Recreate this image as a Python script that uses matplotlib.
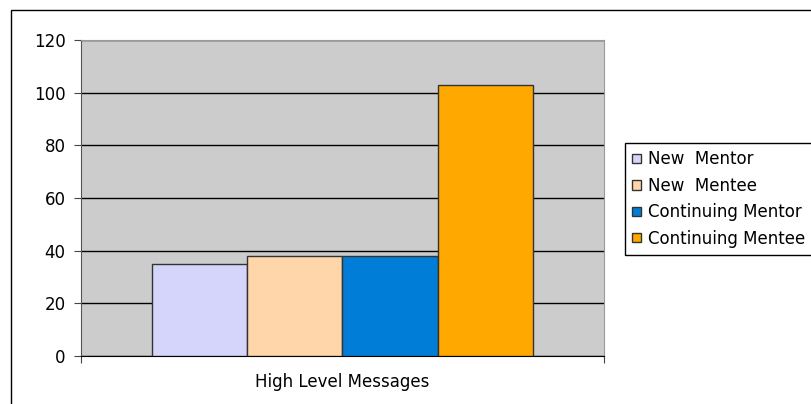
import matplotlib.pyplot as plt
from matplotlib.patches import Rectangle

series = ['New  Mentor', 'New  Mentee', 'Continuing Mentor', 'Continuing Mentee']
values = [35, 38, 38, 103]
colors = ['#D5D5FC', '#FFD5AA', '#007DD6', '#FFA800']
category = 'High Level Messages'
yticks = [0, 20, 40, 60, 80, 100, 120]

W, H = 812, 404
plt.rcParams['font.family'] = ['DejaVu Sans']

fig = plt.figure(figsize=(W / 100, H / 100), dpi=100)
fig.patch.set_facecolor('white')

# outer chart frame (runs past the right/bottom edges)
fig.patches.append(Rectangle((11 / W, 1 - 600 / H), 900 / W, 590 / H,
                             transform=fig.transFigure, fill=False,
                             edgecolor='black', linewidth=1))

ax = fig.add_axes([81 / W, 1 - 356 / H, 523 / W, 316 / H])
ax.set_facecolor('#CCCCCC')

bw = 0.182
for i, (name, v, c) in enumerate(zip(series, values, colors)):
    ax.bar((i - 1.5) * bw, v, width=bw, color=c, edgecolor='#333333',
           linewidth=1, label=name, zorder=3)

ax.set_xlim(-0.5, 0.5)
ax.set_ylim(0, 120)
ax.set_yticks(yticks)
ax.yaxis.grid(True, color='black', linewidth=1)
ax.set_axisbelow(True)

ax.set_xticks([-0.5, 0.5])
ax.set_xticklabels(['', ''])
ax.set_xticks([0], minor=True)
ax.set_xticklabels([category], minor=True)
ax.tick_params(axis='x', which='minor', length=0, pad=12, labelsize=12)
ax.tick_params(axis='x', which='major', length=5, direction='out', color='#444444')
ax.tick_params(axis='y', length=5, direction='out', pad=6, labelsize=12, color='#444444')

for s in ['top', 'right']:
    ax.spines[s].set_color('#999999')
ax.spines['left'].set_color('#555555')
ax.spines['bottom'].set_color('black')

leg = ax.legend(loc='upper left', bbox_to_anchor=(625 / W, 1 - 143 / H),
                bbox_transform=fig.transFigure, fontsize=12, frameon=True,
                fancybox=False, edgecolor='black', framealpha=1,
                handlelength=0.5, handleheight=0.5, handletextpad=0.45,
                borderpad=0.45, labelspacing=0.5, borderaxespad=0)
leg.get_frame().set_linewidth(1)

fig.savefig('out.png', dpi=100)
